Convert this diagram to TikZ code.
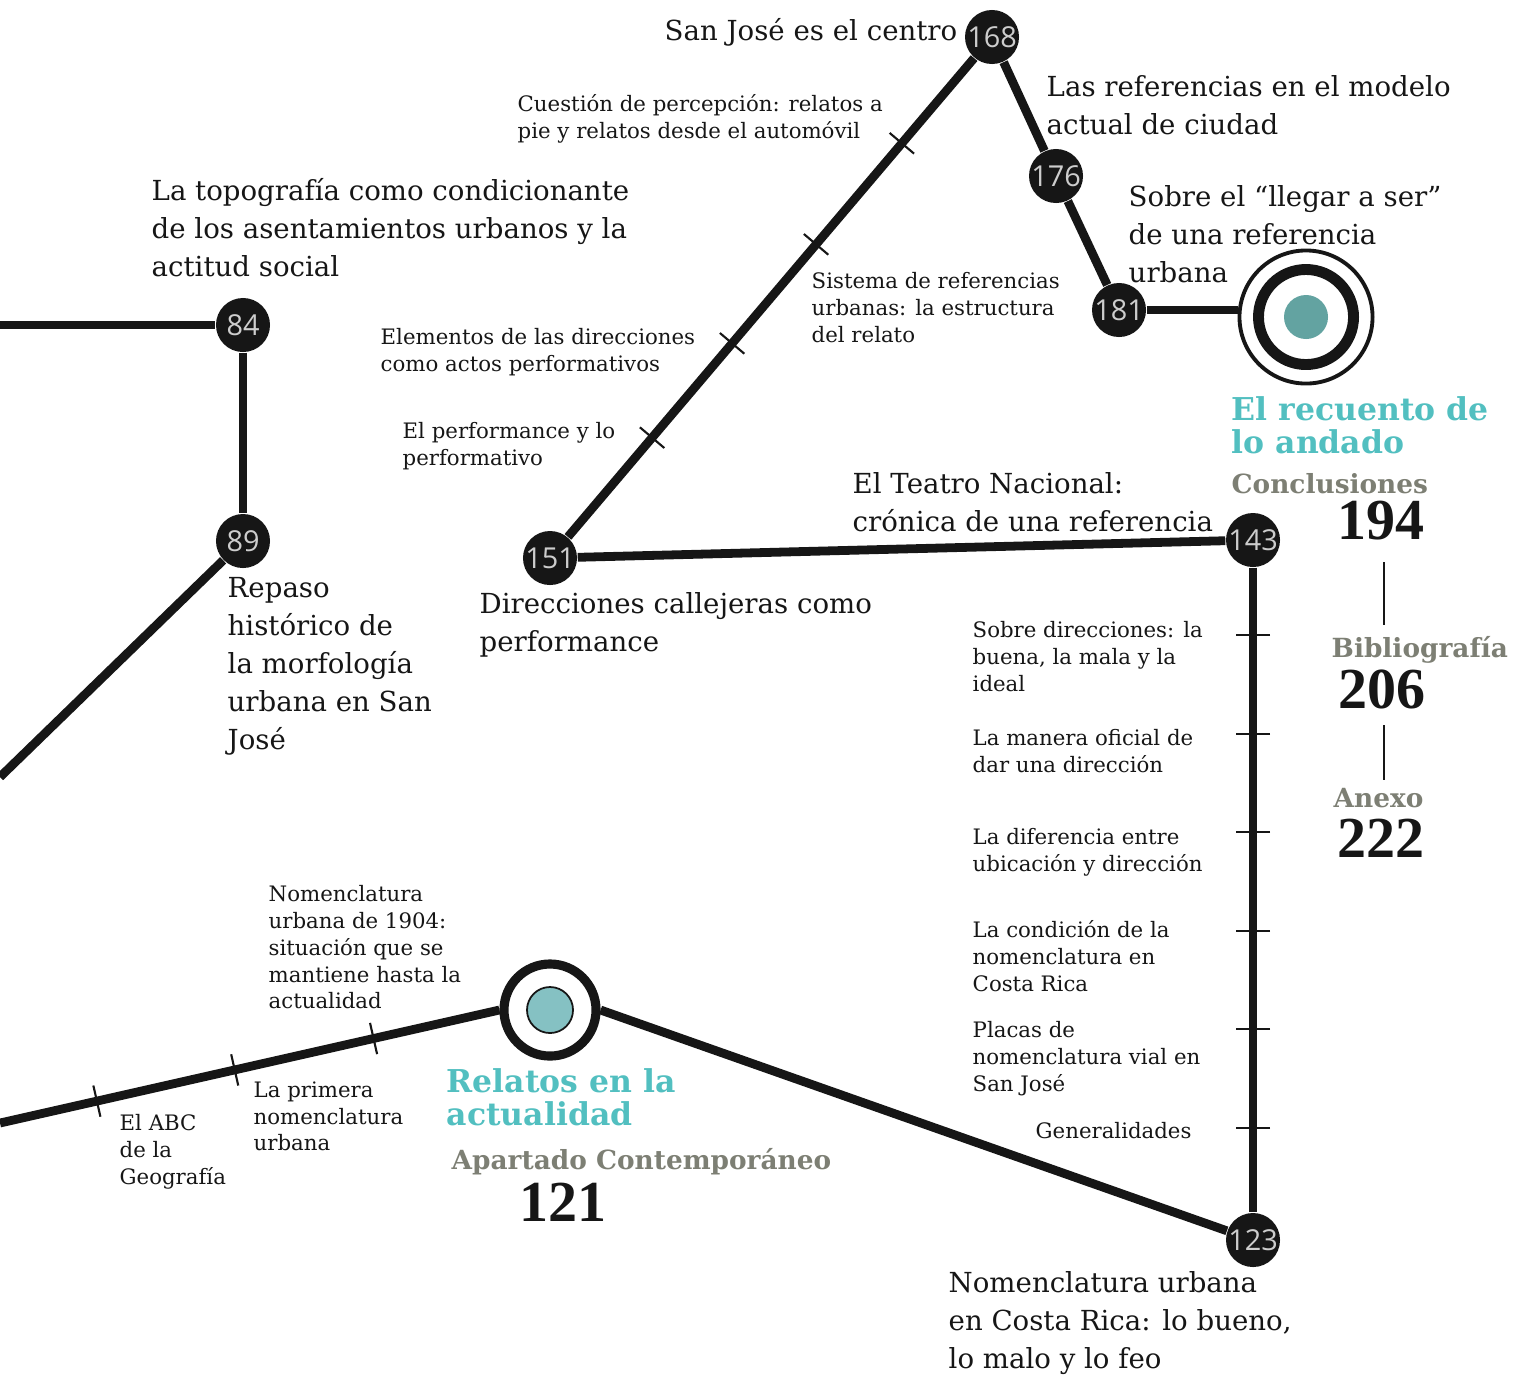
\documentclass[tikz,border=0pt]{standalone}
\usepackage{fontspec}
\setmainfont{DejaVu Serif}
\newfontfamily\numfont{Open Sans}
\newfontfamily\fatfont{Liberation Serif}
\usetikzlibrary{calc}
\definecolor{ink}{HTML}{161616}
\definecolor{numgray}{HTML}{CDCDCD}
\definecolor{aqua}{HTML}{52BFC0}
\definecolor{stone}{HTML}{7D7F74}
\definecolor{dotteal}{HTML}{63A3A1}
\definecolor{dotlight}{HTML}{85C1C3}

\begin{document}
\begin{tikzpicture}[x=0.01cm, y=-0.01cm,
    stop/.style={circle, fill=ink, minimum size=0.54cm, inner sep=-4pt, text=numgray, font=\numfont\fontsize{8.2}{8.2}\selectfont},
    route/.style={draw=ink, line width=2.5pt},
    tickmark/.style={draw=ink, line width=0.6pt},
    lbl/.style={anchor=north west, align=left, inner sep=0pt, text=ink, font=\fontsize{7.85}{10.8}\selectfont},
    sml/.style={lbl, font=\fontsize{6.05}{7.6}\selectfont},
    head/.style={lbl, text=aqua, font=\bfseries\fontsize{8.95}{9.4}\selectfont},
    part/.style={lbl, text=stone, font=\bfseries\fontsize{7.5}{9}\selectfont},
    pg/.style={inner sep=0pt, text=ink, font=\fatfont\bfseries\fontsize{16.5}{16.5}\selectfont}]
      \useasboundingbox (0,0) rectangle (1516,1375);

      \node[stop] (n84) at (243,325) {84};
      \node[stop] (n89) at (243,541) {89};
      \node[stop] (n151) at (550,558) {151};
      \node[stop] (n168) at (992,37) {168};
      \node[stop] (n176) at (1056,176) {176};
      \node[stop] (n181) at (1119,310) {181};
      \node[stop] (n143) at (1253,540) {143};
      \node[stop] (n123) at (1253,1240) {123};

      \node[circle, draw=ink, line width=1.1pt, minimum size=1.33cm, inner sep=0pt] (fin) at (1306,317) {};
      \node[circle, draw=ink, line width=3.1pt, minimum size=0.95cm, inner sep=0pt] (finring) at (fin) {};
      \node[circle, fill=dotteal, minimum size=0.44cm, inner sep=0pt] (findot) at (fin) {};

      \node[circle, draw=ink, line width=2.6pt, minimum size=0.92cm, inner sep=0pt] (rel) at (550,1010) {};
      \node[circle, draw=ink, line width=0.5pt, fill=dotlight, minimum size=0.46cm, inner sep=0pt] (reldot) at (rel) {};

      \coordinate (lft1) at (0,325);
      \coordinate (lft2) at (0,777);
      \coordinate (lft3) at (0,1123);

      \draw[route] (lft1) -- (n84);
      \draw[route] (n84) -- (n89);
      \draw[route] (n89) -- (lft2);
      \draw[route] (n151) -- (n168);
      \draw[route] (n168) -- (n176);
      \draw[route] (n176) -- (n181);
      \draw[route] (n181) -- (n181 -| fin.west);
      \draw[route] (n151) -- (n143);
      \draw[route] (n143) -- (n123);
      \draw[route] (n123) -- (rel.east);
      \draw[route] (lft3) -- (rel.west);

      \foreach \t in {0.231,0.412,0.602,0.796}
        \draw[tickmark] ($(n151)!\t!(n168)!0.16cm!90:(n168)$) -- ($(n151)!\t!(n168)!0.16cm!-90:(n168)$);
      \foreach \t in {0.136,0.277,0.417,0.559,0.699,0.84}
        \draw[tickmark] ($(n143)!\t!(n123)!0.17cm!90:(n123)$) -- ($(n143)!\t!(n123)!0.17cm!-90:(n123)$);
      \foreach \t in {0.194,0.47,0.748}
        \draw[tickmark] ($(lft3)!\t!(rel.west)!0.16cm!90:(rel.west)$) -- ($(lft3)!\t!(rel.west)!0.16cm!-90:(rel.west)$);

      \node[lbl, anchor=north east] (t168) at (958,18) {San José es el centro};
      \node[lbl] (t176) at (1046,75) {Las referencias en el modelo\\actual de ciudad};
      \node[lbl] (t181) at (1128,185) {Sobre el “llegar a ser”\\de una referencia\\urbana};
      \node[lbl] (t84) at (151,178) {La topografía como condicionante\\de los asentamientos urbanos y la\\actitud social};
      \node[lbl] (t89) at (227,577) {Repaso\\histórico de\\la morfología\\urbana en San\\José};
      \node[lbl] (t151) at (479,592) {Direcciones callejeras como\\performance};
      \node[lbl] (t143) at (852,472) {El Teatro Nacional:\\crónica de una referencia};
      \node[lbl] (t123) at (948,1271) {Nomenclatura urbana\\en Costa Rica: lo bueno,\\lo malo y lo feo};

      \node[sml] (s1) at (517,94) {Cuestión de percepción: relatos a\\pie y relatos desde el automóvil};
      \node[sml] (s2) at (811,272) {Sistema de referencias\\urbanas: la estructura\\del relato};
      \node[sml] (s3) at (380,328) {Elementos de las direcciones\\como actos performativos};
      \node[sml] (s4) at (402,422) {El performance y lo\\performativo};
      \node[sml] (s5) at (972,621) {Sobre direcciones: la\\buena, la mala y la\\ideal};
      \node[sml] (s6) at (972,729) {La manera oficial de\\dar una dirección};
      \node[sml] (s7) at (972,828) {La diferencia entre\\ubicación y dirección};
      \node[sml] (s8) at (972,920) {La condición de la\\nomenclatura en\\Costa Rica};
      \node[sml] (s9) at (972,1021) {Placas de\\nomenclatura vial en\\San José};
      \node[sml] (s10) at (1035,1122) {Generalidades};
      \node[sml] (s11) at (268,885) {Nomenclatura\\urbana de 1904:\\situación que se\\mantiene hasta la\\actualidad};
      \node[sml] (s12) at (119,1114) {El ABC\\de la\\Geografía};
      \node[sml] (s13) at (253,1081) {La primera\\nomenclatura\\urbana};

      \node[head] (hfin) at (1231,396) {El recuento de\\lo andado};
      \node[part] (conc) at (1231,473) {Conclusiones};
      \node[pg] (p194) at (1381,521) {194};
      \node[part] (bib) at (1331,636) {Bibliografía};
      \node[pg] (p206) at (1382,689) {206};
      \node[part] (anx) at (1333,788) {Anexo};
      \node[pg] (p222) at (1381,838) {222};
      \draw[tickmark] ($(p194.south)+(3,21)$) -- ($(p194.south |- bib.north)+(3,-11)$);
      \draw[tickmark] ($(p206.south)+(2,16)$) -- ($(p206.south |- anx.north)+(2,-8)$);

      \node[head] (hrel) at (446,1068) {Relatos en la\\actualidad};
      \node[part] (apc) at (451,1148) {Apartado Contemporáneo};
      \node[pg] (p121) at (563,1202) {121};
\end{tikzpicture}
\end{document}
